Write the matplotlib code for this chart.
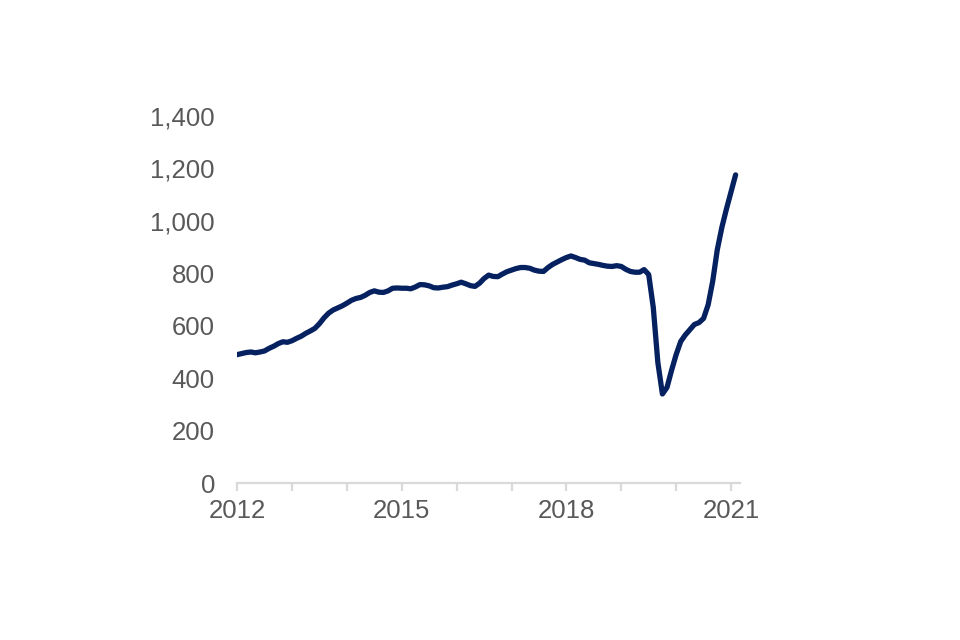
import matplotlib
matplotlib.use("Agg")
import matplotlib.pyplot as plt
from matplotlib.ticker import FuncFormatter

# rolling 3-month values (thousands), one per month
values = [
    490, 494, 498, 500, 497, 500, 504, 514, 522, 532,
    539, 537, 543, 552, 560, 571, 580, 590, 608, 630,
    648, 660, 668, 676, 686, 697, 704, 708, 716, 727,
    733, 728, 727, 733, 743, 744, 743, 743, 741, 748,
    757, 756, 752, 745, 744, 747, 749, 755, 760, 766,
    760, 753, 750, 762, 780, 793, 788, 787, 797, 806,
    812, 818, 822, 822, 819, 812, 808, 807, 822, 834,
    843, 852, 860, 866, 860, 853, 850, 840, 837, 834,
    830, 827, 826, 829, 826, 815, 807, 804, 804, 814,
    795, 670, 460, 340, 365, 430, 490, 540, 565, 585,
    605, 612, 628, 680, 770, 890, 975, 1045, 1110, 1175,
]
year_labels = ['2012', '', '', '2015', '', '', '2018', '', '', '2021']
y_ticks = [0, 200, 400, 600, 800, 1000, 1200, 1400]

plt.rcParams['font.family'] = ['Liberation Sans', 'DejaVu Sans']

fig = plt.figure(figsize=(9.6, 6.4), dpi=100)
ax = fig.add_axes([0.247, 0.245, 0.524, 0.574])

ax.plot(range(len(values)), values, color='#052160', linewidth=3.8,
        solid_capstyle='round', solid_joinstyle='round')

ax.set_xlim(0, 110)
ax.set_ylim(0, 1400)

ax.set_xticks(range(0, 120, 12))
ax.set_xticklabels(year_labels)
ax.set_yticks(y_ticks)
ax.yaxis.set_major_formatter(FuncFormatter(lambda v, p: f'{int(v):,}'))

for s in ['top', 'right', 'left']:
    ax.spines[s].set_visible(False)
ax.spines['bottom'].set_color('#D9D9D9')
ax.spines['bottom'].set_linewidth(1.6)

ax.tick_params(axis='x', colors='#D9D9D9', length=5.5, width=1.6, pad=6,
               labelcolor='#595959', labelsize=18.5)
ax.tick_params(axis='y', length=0, pad=16, labelcolor='#595959', labelsize=18.5)

fig.savefig('out.png', dpi=100, facecolor='white')
